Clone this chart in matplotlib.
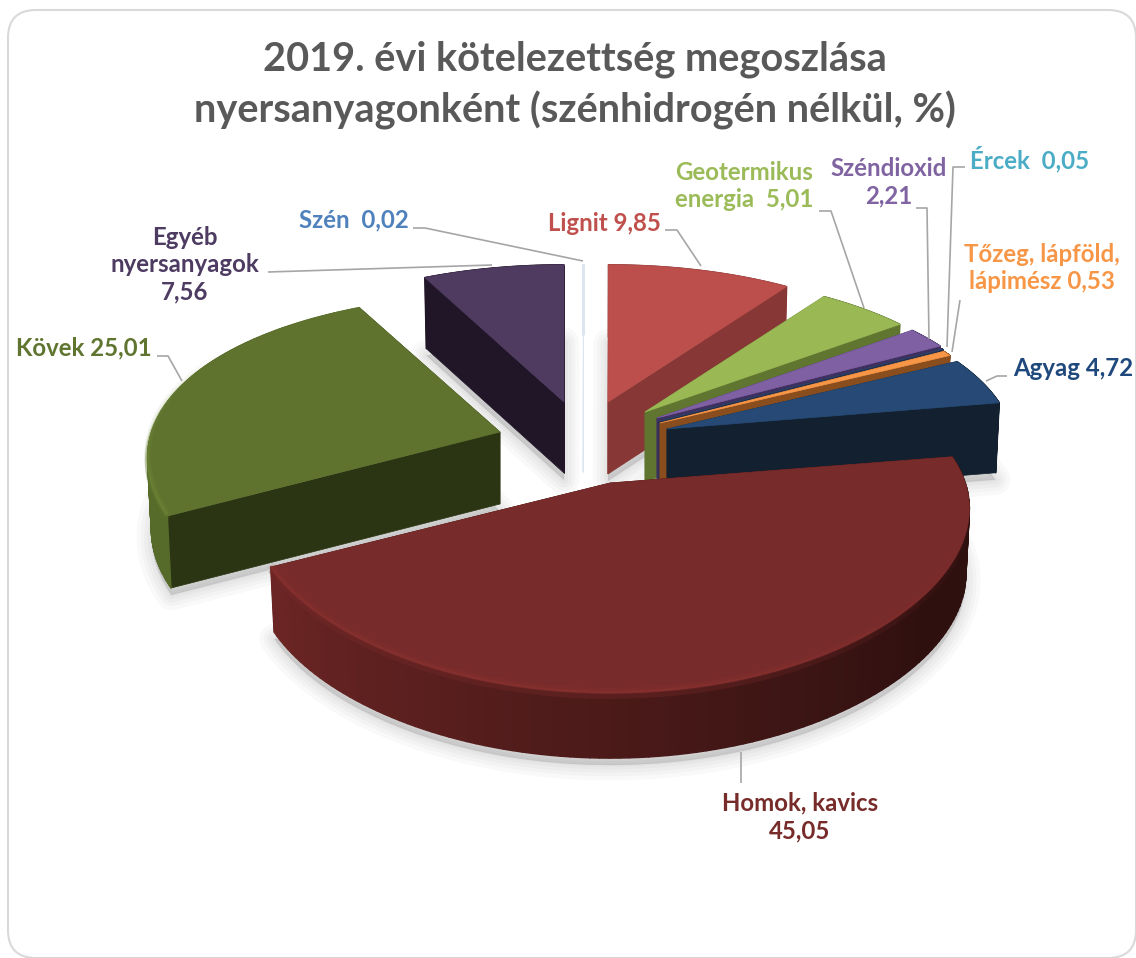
import numpy as np
import matplotlib
matplotlib.use("Agg")
import matplotlib.pyplot as plt
from matplotlib.collections import LineCollection, PolyCollection
from matplotlib.colors import to_rgb
from matplotlib.patches import FancyBboxPatch, Polygon

plt.rcParams['font.family'] = ['Lato', 'DejaVu Sans']

title = "2019. évi kötelezettség megoszlása\nnyersanyagonként (szénhidrogén nélkül, %)"

# slices, clockwise from 12 o'clock
names = ["Szén", "Lignit", "Geotermikus energia", "Széndioxid", "Ércek",
         "Tőzeg, lápföld, lápimész", "Agyag", "Homok, kavics", "Kövek", "Egyéb nyersanyagok"]
values = [0.02, 9.85, 5.01, 2.21, 0.05, 0.53, 4.72, 45.05, 25.01, 7.56]
label_templates = ["Szén  {}", "Lignit {}", "Geotermikus\nenergia  {}", "Széndioxid\n{}", "Ércek  {}",
                   "Tőzeg, lápföld,\nlápimész {}", "Agyag {}", "Homok, kavics\n{}", "Kövek {}",
                   "Egyéb\nnyersanyagok\n{}"]
label_colors = ["#4F81BD", "#C0504D", "#9BBB59", "#8064A2", "#4BACC6",
                "#F79646", "#1F497D", "#772C2A", "#5F7530", "#4D3B62"]

# styling per slice
top_colors = ["#DDE5F0", "#BC4F4B", "#9AB955", "#7F60A3", "#2E3F66",
              "#F79646", "#264A75", "#772B2A", "#5F732F", "#4F3A60"]
radial_colors = ["#DDE5F0", "#873836", "#5F7530", "#3F3060", "#25304F",
                 "#8A4D1E", "#12202F", "#3D1513", "#2B3513", "#211628"]
rim_left = ["#DDE5F0", "#873836", "#5F7530", "#3F3060", "#25304F",
            "#8A4D1E", "#12202F", "#6B2524", "#566A29", "#211628"]
rim_right = ["#DDE5F0", "#873836", "#5F7530", "#3F3060", "#25304F",
             "#8A4D1E", "#12202F", "#2E100F", "#566A29", "#211628"]
apex_x = [583, 608, 645, 657, 659, 660, 667, 610, 500, 564]
apex_y = [402, 402, 412, 418, 421, 423, 429, 483, 432, 402]
x_scale = [1, 1, 1, 1, 1, 1, 1, 1.03, 1.01, 1]
depth = [70, 72, 70, 70, 70, 70, 70, 65, 72, 71]
draw_order = [9, 0, 1, 2, 3, 4, 5, 6, 8, 7]

RX, RY = 345, 166
KX, KY = 0.15, 0.21

bounds = np.cumsum([0] + values) / sum(values) * 360


def project(i, theta, z=0):
    t = np.radians(theta)
    X, Y = np.sin(t), -np.cos(t)
    x = apex_x[i] + RX * x_scale[i] * X / (1 - KX * Y) * (1 - 0.00015 * z)
    y = apex_y[i] + RY * Y / (1 - KY * Y) + z
    return np.column_stack([x, y])


def slice_outline(i, z=0):
    thetas = np.linspace(bounds[i], bounds[i + 1], 120)
    apex = np.array([[apex_x[i], apex_y[i] + z]])
    return np.vstack([apex, project(i, thetas, z)])


def faded_edge(ax, i, thetas, shift, color, lw, alpha):
    # line along the rim, fading out towards the back of the pie
    pts = project(i, thetas) + [0, shift]
    segs = np.stack([pts[:-1], pts[1:]], axis=1)
    fade = np.clip((thetas[:-1] - 100) / 70, 0, 1) * np.clip((300 - thetas[:-1]) / 40, 0, 1)
    cols = [(*color, alpha * f) for f in fade]
    ax.add_collection(LineCollection(segs, colors=cols, linewidths=lw, capstyle='butt'))


def draw_slice(ax, i):
    thetas = np.linspace(bounds[i], bounds[i + 1], 120)
    d = depth[i]
    apex_top = [apex_x[i], apex_y[i]]
    apex_low = [apex_x[i], apex_y[i] + d]
    # flat cut faces
    for th in (bounds[i], bounds[i + 1]):
        p0, p1 = project(i, th)[0], project(i, th, d)[0]
        ax.add_patch(Polygon([apex_top, p0, p1, apex_low], fc=radial_colors[i], ec=radial_colors[i], lw=0.5))
    # outer side, shaded from left to right
    up, low = project(i, thetas), project(i, thetas, d)
    quads, cols = [], []
    c_l, c_r = np.array(to_rgb(rim_left[i])), np.array(to_rgb(rim_right[i]))
    for k in range(len(thetas) - 1):
        quads.append([up[k], up[k + 1], low[k + 1], low[k]])
        f = np.clip((thetas[k] - 125) / 115, 0, 1)
        cols.append(c_r + (c_l - c_r) * f)
    ax.add_collection(PolyCollection(quads, facecolors=cols, edgecolors=cols, linewidths=1.0))
    # top
    ax.add_patch(Polygon(slice_outline(i), fc=top_colors[i], ec=top_colors[i], lw=0.5))
    # soft highlight on the rounded edge
    if values[i] > 20:
        top = to_rgb(top_colors[i])
        lit = tuple(np.clip(np.array(top) * 1.28, 0, 1))
        faded_edge(ax, i, thetas, 3, top, 4, 0.35)
        faded_edge(ax, i, thetas, -2, lit, 4.5, 0.16)
        faded_edge(ax, i, thetas, -1, lit, 2, 0.28)


def draw_shadow(ax, i):
    outline = slice_outline(i, depth[i] + 7)
    for lw in (22, 16, 11, 6, 2):
        ax.add_patch(Polygon(outline, fc=(0, 0, 0, 0.025), ec=(0, 0, 0, 0.025), lw=lw, joinstyle='round'))


fig = plt.figure(figsize=(11.36, 9.58), dpi=100)
ax = fig.add_axes([0, 0, 1, 1])
ax.set_xlim(0, 1136)
ax.set_ylim(958, 0)
ax.axis('off')

ax.add_patch(FancyBboxPatch((36, 38), 1072, 892, boxstyle="round,pad=28,rounding_size=28",
                            fc='white', ec='#D9D9D9', lw=1.5))

for i in draw_order:
    if values[i] > 1:
        draw_shadow(ax, i)
for i in draw_order:
    draw_slice(ax, i)

# leader lines
leaders = [
    [(413, 228), (425, 228), (583, 261)],
    [(665, 230), (677, 230), (701, 266)],
    [(819, 211), (831, 211), (864, 308)],
    [(916, 208), (927, 208), (929, 339)],
    [(965, 167), (953, 167), (947, 347)],
    [(960, 300), (952, 352)],
    [(1007, 376), (997, 376), (986, 381)],
    [(741, 752), (741, 783)],
    [(157, 356), (168, 356), (182, 381)],
    [(268, 272), (492, 265)],
]
for pts in leaders:
    xs, ys = zip(*pts)
    ax.plot(xs, ys, color='#A6A6A6', lw=1.2, solid_capstyle='butt')

# data labels
label_x = [354, 604, 744, 889, 1030, 1042, 1073, 800, 84, 185]
label_y = [220, 223, 186, 182, 159, 268, 369, 817, 348, 265]
for i, tpl in enumerate(label_templates):
    txt = tpl.format(f"{values[i]:.2f}".replace('.', ','))
    ax.text(label_x[i], label_y[i], txt, color=label_colors[i], fontsize=17.3, fontweight='bold',
            ha='center', va='center', linespacing=1.22)

ax.text(575, 85, title, color='#595959', fontsize=28.6, fontweight='bold', ha='center', va='center', linespacing=1.42)

fig.savefig('out.png', dpi=100, facecolor='white')
